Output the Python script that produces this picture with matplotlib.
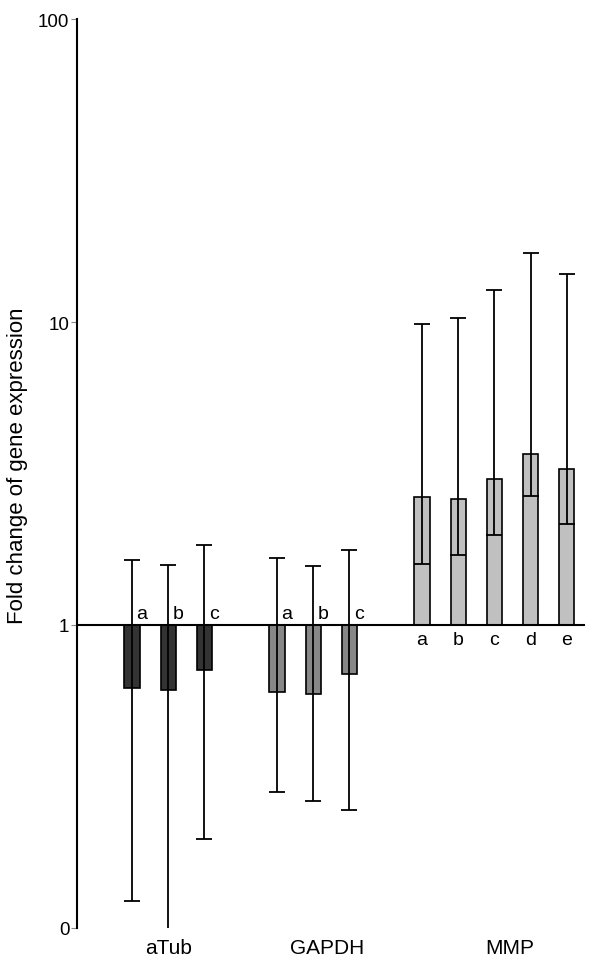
import matplotlib
matplotlib.use("Agg")
import matplotlib.pyplot as plt
import numpy as np

plt.rcParams['font.family'] = ['Liberation Sans', 'DejaVu Sans']

groups = ["aTub", "GAPDH", "MMP"]
sub_labels = [["a", "b", "c"], ["a", "b", "c"], ["a", "b", "c", "d", "e"]]
values = [[0.62, 0.61, 0.71], [0.60, 0.59, 0.69], [2.65, 2.61, 3.03, 3.67, 3.27]]
err_upper = [[1.64, 1.58, 1.84], [1.66, 1.57, 1.77], [9.85, 10.3, 12.8, 16.9, 14.4]]
err_lower = [[0.123, 0.08, 0.197], [0.281, 0.262, 0.245], [1.59, 1.70, 1.98, 2.67, 2.15]]
colors = ["#333333", "#878787", "#c0c0c0"]
ytick_vals = [0.1, 1, 10, 100]
ytick_labels = ["0", "1", "10", "100"]

fig = plt.figure(figsize=(6, 9.7), dpi=100)
ax = fig.add_axes([77/600, 41/970, 508/600, 909/970])

pos = 0
group_centers = []
for gi, g in enumerate(groups):
    xs = []
    for si, lab in enumerate(sub_labels[gi]):
        v = values[gi][si]
        ax.bar(pos, v - 1, bottom=1, width=0.42, color=colors[gi],
               edgecolor="black", linewidth=1.2, zorder=2)
        ax.errorbar(pos, v, yerr=[[v - err_lower[gi][si]], [err_upper[gi][si] - v]],
                    fmt="none", ecolor="black", elinewidth=1.3, capsize=5.5,
                    capthick=1.3, zorder=3)
        if v < 1:
            ax.annotate(lab, (pos, 1), xytext=(7, 2), textcoords="offset points",
                        ha="center", va="bottom", fontsize=14)
        else:
            ax.annotate(lab, (pos, 1), xytext=(0, -4), textcoords="offset points",
                        ha="center", va="top", fontsize=14)
        xs.append(pos)
        pos += 1
    group_centers.append(np.mean(xs))
    pos += 1

ax.axhline(1, color="black", linewidth=1.5, zorder=4)
ax.set_yscale("log")
ax.set_ylim(0.1, 100)
ax.set_xlim(-1.517, 12.5)
ax.set_yticks(ytick_vals)
ax.set_yticklabels(ytick_labels, fontsize=13.5)
ax.yaxis.set_minor_locator(matplotlib.ticker.NullLocator())
ax.tick_params(axis="y", length=4, width=0.8, color="#888888", pad=1.5)
ax.tick_params(axis="x", length=0, pad=7)
label_offsets = [0.02, 0.38, 0.43]
ax.set_xticks([c + o for c, o in zip(group_centers, label_offsets)])
ax.set_xticklabels(groups, fontsize=15)
for s in ["top", "right", "bottom"]:
    ax.spines[s].set_visible(False)
ax.spines["left"].set_linewidth(1.5)
ax.set_ylabel("Fold change of gene expression", fontsize=16)
ax.yaxis.set_label_coords(-0.0965, 0.51)

fig.savefig("out.png", dpi=100)
